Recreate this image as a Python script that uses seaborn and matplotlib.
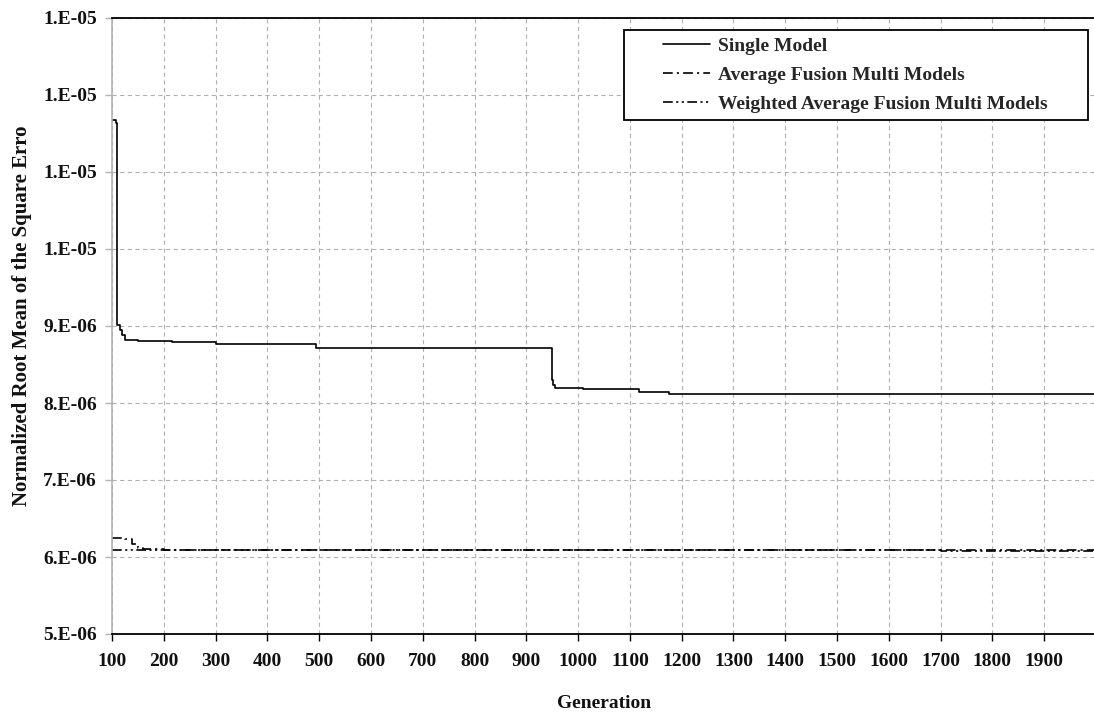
import numpy as np
import pandas as pd
import matplotlib
matplotlib.use("Agg")
import matplotlib.pyplot as plt
import seaborn as sns
from matplotlib.patches import Rectangle
from matplotlib.ticker import FixedLocator, FuncFormatter

# ---- data: best NRMSE per generation (step changes) ----
series_names = [
    "Single Model",
    "Average Fusion Multi Models",
    "Weighted Average Fusion Multi Models",
]

single_generation = [100, 108, 110, 115, 120, 125, 150, 215, 300, 494,
                     949, 952, 955, 961, 1010, 1118, 1176, 2000]
single_nrmse = [1.1675e-5, 1.163e-5, 9.01e-6, 8.95e-6, 8.88e-6, 8.82e-6,
                8.805e-6, 8.79e-6, 8.765e-6, 8.72e-6, 8.30e-6, 8.23e-6,
                8.20e-6, 8.195e-6, 8.178e-6, 8.139e-6, 8.117e-6, 8.117e-6]

average_generation = [100, 125, 138, 150, 160, 200, 500, 2000]
average_nrmse = [6.25e-6, 6.235e-6, 6.17e-6, 6.12e-6, 6.10e-6, 6.09e-6,
                 6.085e-6, 6.085e-6]

weighted_generation = [100, 300, 1700, 1800, 2000]
weighted_nrmse = [6.088e-6, 6.085e-6, 6.078e-6, 6.072e-6, 6.072e-6]

x_ticks = list(range(100, 2000, 100))
y_ticks = [5e-6, 6e-6, 7e-6, 8e-6, 9e-6, 1.0e-5, 1.1e-5, 1.2e-5, 1.3e-5]

frames = []
for name, gen, val in zip(series_names,
                          [single_generation, average_generation, weighted_generation],
                          [single_nrmse, average_nrmse, weighted_nrmse]):
    frames.append(pd.DataFrame({"Generation": gen, "NRMSE": val, "Series": name}))
df = pd.concat(frames, ignore_index=True)

# ---- style ----
sns.set_theme(style="white")
plt.rcParams["font.family"] = ["Liberation Serif", "DejaVu Serif"]
plt.rcParams["font.weight"] = "bold"
plt.rcParams["axes.labelweight"] = "bold"
plt.rcParams["lines.scale_dashes"] = False

W, H = 1094, 715
fig = plt.figure(figsize=(W / 100, H / 100), dpi=100)
ax = fig.add_axes([112 / W, 81 / H, 984 / W, 616 / H])

dash_map = {
    series_names[0]: "",
    series_names[1]: (7, 3, 1.5, 3),
    series_names[2]: (7, 2.5, 1.5, 2.5, 1.5, 2.5),
}
sns.lineplot(
    data=df, x="Generation", y="NRMSE",
    hue="Series", style="Series",
    hue_order=series_names, style_order=series_names,
    palette=dict.fromkeys(series_names, "black"),
    dashes=dash_map, estimator=None, sort=True,
    drawstyle="steps-post", linewidth=1.2, ax=ax,
)

ax.set_xlim(100, 2000)
ax.set_ylim(5e-6, 1.3e-5)
ax.xaxis.set_major_locator(FixedLocator(x_ticks))
ax.yaxis.set_major_locator(FixedLocator(y_ticks))


def sci_label(v, pos):
    exp = int(np.floor(np.log10(v) + 1e-9))
    mant = v / 10 ** exp
    return f"{mant:.0f}.E-{-exp:02d}"


ax.yaxis.set_major_formatter(FuncFormatter(sci_label))

ax.grid(True, color="#b0b0b0", linestyle=(0, (3, 2.5)), linewidth=0.8)
ax.set_axisbelow(True)

ax.spines["right"].set_visible(False)
ax.spines["top"].set_color("black")
ax.spines["top"].set_linewidth(1.3)
ax.spines["bottom"].set_color("black")
ax.spines["bottom"].set_linewidth(1.3)
ax.spines["left"].set_color("#b3b3b3")
ax.spines["left"].set_linewidth(1.2)

ax.tick_params(axis="x", bottom=True, direction="out", length=5, width=1,
               color="black", pad=8.5, labelsize=14, labelcolor="#111111")
ax.tick_params(axis="y", left=True, direction="out", length=5, width=1,
               color="#b3b3b3", pad=5.8, labelsize=14, labelcolor="#111111")

ax.set_xlabel("Generation", fontsize=14, fontweight="bold", color="#111111")
ax.set_ylabel("Normalized Root Mean of the Square Erro", fontsize=15,
              fontweight="bold", color="#111111")
ax.xaxis.set_label_coords(0.5, -0.099)
ax.yaxis.set_label_coords(-0.081, 0.516)

# ---- legend ----
leg = ax.get_legend()
handles = list(leg.legend_handles)
labels = [t.get_text() for t in leg.get_texts()]
leg.remove()
for h in handles:
    h.set_linewidth(1.2)
    h.set_color("black")

ax.add_patch(Rectangle((624 / W, 1 - 120 / H), (1088 - 624) / W, 90 / H,
                       transform=fig.transFigure, facecolor="white",
                       edgecolor="black", linewidth=1.3, zorder=4,
                       clip_on=False))
ax.legend(handles, labels, loc="upper left",
          bbox_to_anchor=(663 / W, 1 - 37 / H), bbox_transform=fig.transFigure,
          frameon=False, borderpad=0, borderaxespad=0, handlelength=2.4,
          handletextpad=0.45, labelspacing=0.6,
          prop={"size": 14, "weight": "bold"})

fig.savefig("out.png", dpi=100)
